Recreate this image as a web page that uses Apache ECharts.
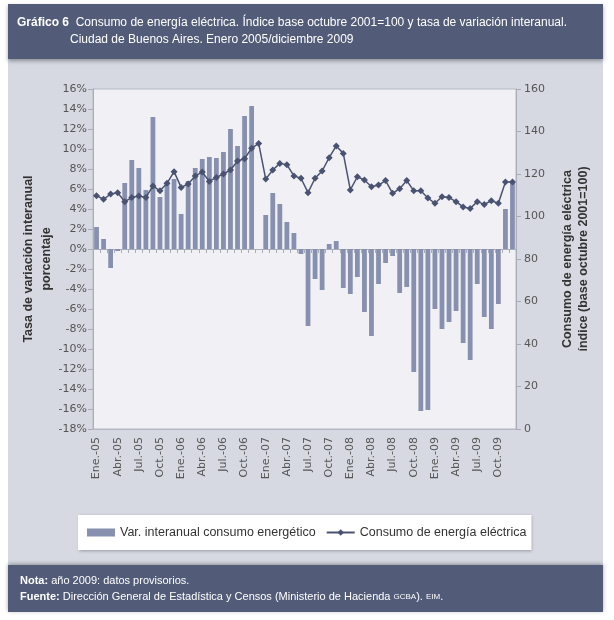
<!DOCTYPE html>
<html>
<head>
<meta charset="utf-8">
<script src="https://cdn.jsdelivr.net/npm/echarts@6/dist/echarts.min.js"></script>
<style>
html,body{margin:0;padding:0;background:#fff;}
#c{width:614px;height:620px;}
</style>
</head>
<body>
<div id="c"></div>
<script>
// ---- data ----
var months = ['Ene.','Feb.','Mar.','Abr.','May.','Jun.','Jul.','Ago.','Sep.','Oct.','Nov.','Dic.'];
var years = ['05','06','07','08','09'];
var varInteranual = [
  2.2, 1.0, -1.9, -0.2, 6.6, 8.9, 8.1, 5.9, 13.2, 5.2, 6.6, 7.0,
  3.5, 6.8, 8.1, 9.0, 9.2, 9.1, 9.7, 12.0, 10.3, 13.3, 14.3, 0,
  3.4, 5.6, 4.5, 2.7, 1.6, -0.5, -7.7, -3.0, -4.1, 0.5, 0.8, -3.9,
  -4.5, -2.8, -6.3, -8.7, -3.5, -1.4, -0.7, -4.4, -3.8, -12.3, -16.2, -16.1,
  -6.0, -8.0, -7.3, -6.2, -9.4, -11.1, -3.5, -6.8, -8.0, -5.5, 4.0, 6.6
];
var consumoIndice = [
  109.8, 108.1, 110.6, 111.2, 107.0, 108.9, 109.6, 108.9, 114.4, 112.1, 115.6, 121.1,
  113.7, 115.3, 119.1, 120.9, 116.5, 118.4, 120.0, 121.9, 126.1, 127.2, 132.1, 134.4,
  117.6, 121.9, 125.0, 124.4, 119.1, 118.0, 111.2, 118.0, 121.4, 127.7, 133.2, 129.7,
  112.5, 118.7, 117.2, 114.0, 114.8, 116.9, 110.9, 113.1, 116.9, 112.1, 112.1, 108.7,
  106.2, 109.3, 108.9, 107.0, 104.5, 103.8, 107.0, 105.7, 107.4, 106.2, 116.2, 116.2
];
var leftTicks = {min: -18, max: 16, interval: 2};
var rightTicks = {min: 0, max: 160, interval: 20};
var seriesNames = ['Var. interanual consumo energético', 'Consumo de energía eléctrica'];

var categories = [];
years.forEach(function(y){ months.forEach(function(m){ categories.push(m + '-' + y); }); });

var chart = echarts.init(document.getElementById('c'), null, {renderer: 'canvas'});
var tickFont = {fontFamily: 'DejaVu Sans', fontSize: 11, color: '#555'};
var option = {
  animation: false,
  backgroundColor: '#fff',
  graphic: [
    {type: 'rect', z: -10, shape: {x: 8, y: 57, width: 595, height: 510}, style: {fill: '#D6D9E2'}},
    {type: 'rect', z: -9, shape: {x: 8, y: 4, width: 595, height: 55},
      style: {fill: '#525C78', shadowBlur: 4, shadowColor: 'rgba(0,0,0,0.35)', shadowOffsetY: 2}},
    {type: 'text', z: 10, left: 17, top: 17, style: {
      text: '{b|Gráfico 6}  Consumo de energía eléctrica. Índice base octubre 2001=100 y tasa de variación interanual.',
      fill: '#fff', font: '12px "Liberation Sans"',
      rich: {b: {fontWeight: 'bold', fill: '#fff', fontSize: 12, fontFamily: 'Liberation Sans'}}
    }},
    {type: 'text', z: 10, left: 70, top: 34, style: {
      text: 'Ciudad de Buenos Aires. Enero 2005/diciembre 2009',
      fill: '#fff', font: '12px "Liberation Sans"'
    }},
    {type: 'rect', z: -9, shape: {x: 8, y: 565, width: 595, height: 47},
      style: {fill: '#525C78', shadowBlur: 4, shadowColor: 'rgba(0,0,0,0.35)', shadowOffsetY: -1}},
    {type: 'text', z: 10, left: 20, top: 573, style: {
      text: '{b|Nota:} año 2009: datos provisorios.\n{b|Fuente:} Dirección General de Estadística y Censos (Ministerio de Hacienda {s|GCBA}). {s|EIM}.',
      fill: '#fff', font: '11px "Liberation Sans"', lineHeight: 16,
      rich: {
        b: {fontWeight: 'bold', fill: '#fff', fontSize: 11, fontFamily: 'Liberation Sans'},
        s: {fill: '#fff', fontSize: 8, fontFamily: 'Liberation Sans'}
      }
    }}
  ],
  legend: {
    left: 78, top: 515,
    backgroundColor: '#fff',
    padding: [11, 5, 11, 9],
    itemGap: 10,
    itemWidth: 28, itemHeight: 8,
    shadowBlur: 3, shadowColor: 'rgba(0,0,0,0.3)', shadowOffsetX: 1, shadowOffsetY: 1,
    textStyle: {fontFamily: 'Liberation Sans', fontSize: 12.5, color: '#333'},
    data: [
      {name: seriesNames[0], icon: 'rect'},
      {name: seriesNames[1]}
    ]
  },
  grid: {left: 93, right: 98, top: 89, bottom: 191, show: true, backgroundColor: '#F1F1F5', borderColor: '#B5B9C6', borderWidth: 1},
  xAxis: [
    {
      type: 'category', data: categories, position: 'bottom',
      axisLine: {show: true, onZero: false, lineStyle: {color: '#B5B9C6'}},
      axisTick: {show: false},
      axisLabel: Object.assign({interval: 2, rotate: 90, margin: 8}, tickFont),
      splitLine: {show: false}
    },
    {
      type: 'category', data: categories, position: 'bottom',
      axisLine: {show: true, onZero: true, onZeroAxisIndex: 0, lineStyle: {color: '#A9ADBA'}},
      axisTick: {show: true, interval: 0, length: 4, lineStyle: {color: '#A9ADBA'}},
      axisLabel: {show: false},
      splitLine: {show: false}
    }
  ],
  yAxis: [
    {
      type: 'value', min: leftTicks.min, max: leftTicks.max, interval: leftTicks.interval,
      name: 'Tasa de variación interanual\nporcentaje',
      nameLocation: 'middle', nameRotate: 90, nameGap: 37, nameMoveOverlap: false,
      nameTextStyle: {fontFamily: 'Liberation Sans', fontWeight: 'bold', fontSize: 12.5, color: '#333', lineHeight: 18},
      axisLine: {show: true, lineStyle: {color: '#A9ADBA'}},
      axisTick: {show: true, length: 5, lineStyle: {color: '#A9ADBA'}},
      axisLabel: Object.assign({formatter: '{value}%', margin: 6}, tickFont),
      splitLine: {show: false}
    },
    {
      type: 'value', min: rightTicks.min, max: rightTicks.max, interval: rightTicks.interval,
      position: 'right',
      name: 'Consumo de energía eléctrica\níndice (base octubre 2001=100)',
      nameLocation: 'middle', nameRotate: 90, nameGap: 44,
      nameTextStyle: {fontFamily: 'Liberation Sans', fontWeight: 'bold', fontSize: 12.5, color: '#333', lineHeight: 16},
      axisLine: {show: true, lineStyle: {color: '#A9ADBA'}},
      axisTick: {show: true, length: 5, lineStyle: {color: '#A9ADBA'}},
      axisLabel: Object.assign({margin: 8}, tickFont),
      splitLine: {show: false}
    }
  ],
  series: [
    {
      name: seriesNames[0], type: 'bar', xAxisIndex: 0, yAxisIndex: 0,
      data: varInteranual, barWidth: '68%',
      itemStyle: {color: '#8790AE'}
    },
    {
      name: seriesNames[1], type: 'line', xAxisIndex: 0, yAxisIndex: 1,
      data: consumoIndice,
      symbol: 'diamond', symbolSize: 7, showSymbol: true, showAllSymbol: true,
      lineStyle: {color: '#4A5272', width: 1.5},
      itemStyle: {color: '#4A5272'},
      z: 5
    }
  ]
};
chart.setOption(option);
</script>
</body>
</html>
